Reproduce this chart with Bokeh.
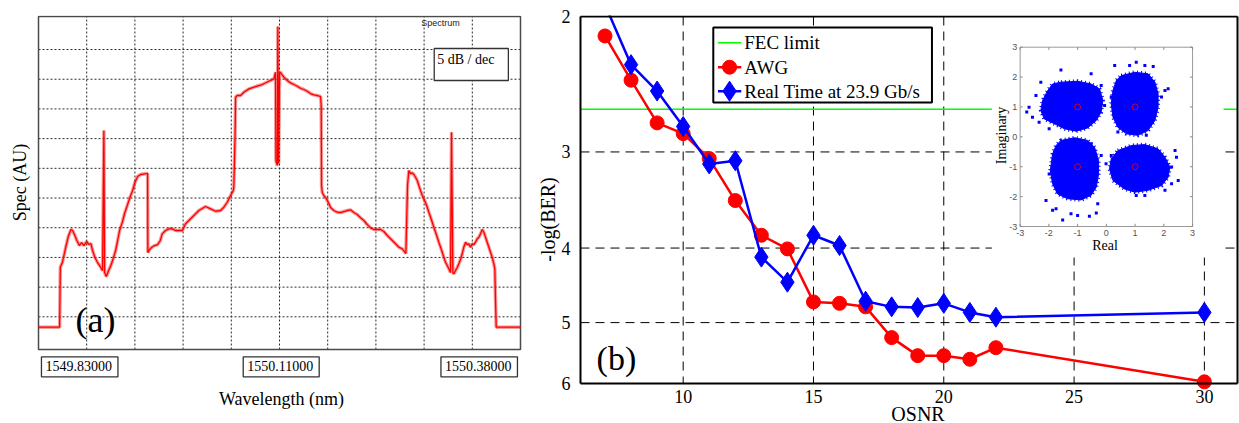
import math
from bokeh.plotting import figure
from bokeh.layouts import row
from bokeh.models import (Range1d, FixedTicker, Label, LinearScale)
from bokeh.embed import file_html
from bokeh.resources import INLINE
from bokeh.core.properties import value

SERIF = "Liberation Serif"
SANS = "Liberation Sans"

# ---------------- panel (a): optical spectrum (5 dB / division) ----------------
WL_START, WL_END = 1549.83, 1550.38
wl_tick_labels = ["1549.83000", "1550.11000", "1550.38000"]
# wavelength offset from 1549.83 nm, in pm
spec_offset_pm = [
    0.0, 24.1, 24.9, 27.2, 29.0, 31.3, 34.0, 37.0, 38.9, 41.5,
    43.8, 46.6, 49.2, 51.8, 54.9, 57.5, 59.8, 61.7, 64.4, 67.4,
    70.5, 73.1, 74.6, 75.4, 77.4, 80.0, 82.6, 85.3, 88.0, 90.3,
    92.5, 95.6, 98.2, 101.3, 104.3, 107.4, 110.0, 113.1, 116.5, 119.9,
    123.3, 124.5, 124.8, 126.8, 129.0, 132.5, 135.9, 139.0, 141.2, 145.0,
    148.8, 152.7, 156.4, 160.2, 164.1, 167.8, 171.6, 177.3, 183.0, 190.6,
    196.4, 202.1, 207.8, 211.5, 215.4, 219.2, 222.3, 222.9, 224.3, 224.9,
    226.8, 230.6, 234.3, 240.1, 247.7, 255.3, 262.9, 268.6, 270.5, 270.9,
    272.5, 273.1, 273.9, 275.1, 276.2, 280.0, 283.9, 287.6, 291.4, 295.3,
    299.0, 302.8, 306.7, 310.4, 314.2, 318.1, 321.9, 322.6, 323.0, 323.8,
    325.6, 327.6, 329.5, 331.3, 333.3, 337.0, 340.9, 344.7, 348.4, 352.3,
    356.1, 359.8, 363.7, 367.5, 371.3, 375.1, 378.9, 382.7, 386.5, 390.3,
    394.1, 398.0, 403.7, 407.4, 411.2, 415.1, 418.0, 419.2, 421.1, 422.6,
    424.5, 426.5, 428.3, 430.2, 432.2, 434.0, 435.9, 437.9, 439.7, 441.6,
    443.6, 445.4, 447.4, 449.3, 451.1, 453.1, 455.0, 456.8, 458.8, 460.7,
    462.5, 464.5, 466.4, 468.2, 470.2, 471.3, 472.8, 473.9, 475.9, 477.8,
    479.6, 481.6, 483.5, 485.3, 487.3, 489.2, 491.0, 493.0, 494.9, 496.8,
    498.7, 500.6, 502.5, 504.4, 506.3, 508.2, 510.1, 512.0, 513.9, 515.8,
    517.7, 519.6, 520.7, 521.5, 522.3, 550.0,
]
spec_db = [
    -46.75, -46.75, -36.65, -35.86, -34.68, -33.16, -31.48, -30.30, -30.47, -31.31,
    -32.15, -33.00, -32.49, -33.00, -32.32, -32.83, -32.66, -33.84, -35.02, -35.86,
    -36.53, -37.21, -13.64, -37.54, -38.22, -37.21, -36.36, -35.19, -33.84, -32.15,
    -30.47, -29.12, -27.61, -26.26, -24.92, -23.74, -22.39, -21.38, -21.04, -20.96,
    -20.88, -20.88, -34.18, -33.67, -33.33, -33.00, -32.83, -32.15, -31.03, -30.47,
    -30.19, -30.19, -30.47, -30.47, -30.47, -29.34, -28.79, -27.95, -27.10, -26.43,
    -26.82, -27.22, -27.10, -26.55, -25.71, -24.58, -23.74, -23.18, -14.48, -8.03,
    -7.74, -7.74, -7.19, -6.62, -6.23, -5.89, -5.34, -4.93, -3.82, -18.69,
    -19.53, 3.87, -19.19, -3.87, -3.87, -4.66, -5.22, -5.61, -5.89, -6.18,
    -6.52, -6.73, -7.02, -7.41, -7.63, -7.74, -7.91, -9.60, -22.90, -24.07,
    -24.58, -24.92, -25.42, -25.93, -26.60, -27.10, -27.39, -27.44, -27.27, -27.10,
    -26.99, -27.44, -27.78, -28.33, -28.79, -29.46, -30.02, -30.30, -30.30, -30.30,
    -30.64, -31.31, -32.15, -32.71, -33.28, -33.55, -34.12, -34.34, -22.90, -20.37,
    -20.88, -20.76, -21.04, -21.50, -22.05, -22.90, -23.74, -24.58, -25.13, -25.76,
    -26.55, -27.39, -28.23, -29.07, -29.92, -30.76, -31.60, -32.44, -33.28, -34.12,
    -34.97, -35.81, -36.36, -36.92, -37.54, -13.92, -37.54, -37.76, -37.21, -36.70,
    -36.08, -35.35, -34.39, -33.28, -32.44, -32.83, -32.71, -33.28, -32.71, -32.83,
    -32.44, -31.87, -31.60, -31.03, -30.30, -30.76, -31.60, -32.44, -33.28, -34.12,
    -34.97, -36.08, -36.92, -42.26, -46.75, -46.75,
]
db_grid = [-45, -40, -35, -30, -25, -20, -15, -10, -5, 0]
DB_BOTTOM, DB_TOP = -50.5, 5.56

# ---------------- panel (b): BER vs OSNR ----------------
osnr = [7, 8, 9, 10, 11, 12, 13, 14, 15, 16, 17, 18, 19, 20, 21, 22, 30]
ber_awg = [2.12, 2.42, 2.75, 2.84, 3.06, 3.47, 3.85, 4.01, 4.70, 4.72, 4.77, 5.23, 5.52, 5.52, 5.58, 5.39, 5.97]
ber_rt = [1.93, 2.31, 2.50, 2.78, 3.11, 3.08, 4.11, 4.43, 3.85, 3.97, 4.69, 4.77, 4.78, 4.72, 4.85, 4.92, 4.85]
fec_limit = 2.64
osnr_ticks = [10, 15, 20, 25, 30]
ber_ticks = [2, 3, 4, 5, 6]
ber_grid = [3, 4, 5]
legend_labels = ["FEC limit", "AWG", "Real Time at 23.9 Gb/s"]

# ---------------- inset: QPSK constellation ----------------
inset_ticks = [-3, -2, -1, 0, 1, 2, 3]
const_re = [-1, 1, -1, 1]
const_im = [1, 1, -1, -1]
cluster_re = [
    [-1.58, -1.00, -0.53, -0.24, -0.12, -0.18, -0.35, -0.65, -1.05, -1.46, -1.81, -2.16, -2.28, -2.22, -2.04, -1.87],
    [0.52, 0.99, 1.45, 1.69, 1.80, 1.80, 1.69, 1.45, 1.10, 0.70, 0.40, 0.23, 0.17, 0.23, 0.35],
    [-1.58, -1.11, -0.65, -0.41, -0.27, -0.27, -0.35, -0.53, -0.88, -1.35, -1.70, -1.87, -1.95, -1.87, -1.75],
    [0.40, 0.87, 1.34, 1.80, 2.04, 2.21, 2.15, 1.92, 1.45, 0.99, 0.62, 0.23, 0.11, 0.17],
]
cluster_im = [
    [1.83, 1.86, 1.77, 1.61, 1.22, 0.83, 0.55, 0.30, 0.19, 0.27, 0.44, 0.60, 0.88, 1.22, 1.55, 1.77],
    [2.05, 2.16, 2.11, 1.83, 1.44, 0.99, 0.55, 0.21, 0.05, 0.10, 0.32, 0.66, 1.11, 1.55, 1.89],
    [-0.12, -0.03, -0.12, -0.35, -0.79, -1.24, -1.68, -1.96, -2.11, -2.07, -1.91, -1.57, -1.13, -0.57, -0.29],
    [-0.46, -0.29, -0.26, -0.40, -0.68, -1.01, -1.35, -1.63, -1.79, -1.85, -1.74, -1.46, -1.07, -0.74],
]
outlier_re = [-2.77, -2.69, -2.57, -2.45, -2.28, -1.58, -0.53, -0.18, -0.06, -2.34, -1.99,
              0.29, 0.81, 1.04, 1.34, 1.63, 2.04, 2.15, 1.92, 0.17, 0.40, 1.39,
              -2.10, -1.87, -1.52, -1.23, -1.00, -0.59, -0.35, -0.30, -1.99, -0.53, -0.18, -1.75,
              2.39, 2.44, 2.50, 2.27, 2.04, 1.04, 1.34, -0.01, 0.17, 2.27]
outlier_im = [0.83, 0.99, 0.66, 1.38, 1.83, 2.24, 2.11, 1.72, 1.05, 0.49, 0.27,
              2.39, 2.39, 2.50, 2.39, 2.35, 1.55, 1.61, 1.33, 1.33, 0.16, 0.05,
              -2.13, -2.46, -2.78, -2.57, -2.63, -2.66, -2.55, -2.24, -1.24, -0.23, -0.62, -2.41,
              -0.46, -0.68, -1.46, -1.57, -1.79, -1.96, -1.96, -0.90, -0.62, -1.01]

# ---------------- layout (page pixels) ----------------
W1, W2, H = 533, 706, 423
TOP = 15

# ======================= panel (a) =======================
A_L, A_R, A_T, A_B = 38, 520, 16, 349  # visible box


def ax(px):
    return WL_START + (px - A_L) / (A_R - A_L) * (WL_END - WL_START)


def ay(py):
    return DB_TOP - (py - A_T) / (A_B - A_T) * (DB_TOP - DB_BOTTOM)


p1 = figure(width=W1, height=H, x_range=Range1d(ax(0), ax(W1)), y_range=Range1d(ay(H), ay(TOP)),
            x_axis_location=None, y_axis_location=None, toolbar_location=None, output_backend="svg",
            min_border_left=0, min_border_right=0, min_border_top=TOP, min_border_bottom=0)
p1.center = []
p1.outline_line_color = None

wl_grid = [WL_START + k * (WL_END - WL_START) / 10 for k in range(1, 10)]
gkw = dict(line_color="#2a2a2a", line_dash="2 2", line_width=1)
p1.segment(x0=wl_grid, y0=[DB_BOTTOM] * len(wl_grid), x1=wl_grid, y1=[DB_TOP] * len(wl_grid), **gkw)
p1.segment(x0=[WL_START] * len(db_grid), y0=db_grid, x1=[WL_END] * len(db_grid), y1=db_grid, **gkw)
p1.quad(left=[WL_START], right=[WL_END], bottom=[DB_BOTTOM], top=[DB_TOP],
        fill_color=None, line_color="#4a4a4a", line_width=1.5)

wl = [WL_START + o / 1000.0 for o in spec_offset_pm]
p1.line(wl, spec_db, line_color="#e80000", line_width=3.5, line_alpha=0.4)
p1.line(wl, spec_db, line_color="#ff0000", line_width=1.3)

box_centers = [79.2, 280.7, 478.7]
for txt, cx in zip(wl_tick_labels, box_centers):
    p1.add_layout(Label(x=ax(cx), y=ay(366.3), text=txt, text_align="center", text_baseline="middle",
                        text_font=SERIF, text_font_size="14px", text_color="black",
                        border_line_color="#333333", border_line_width=1.3,
                        background_fill_color="white", padding=(4, 6, 4, 6)))
p1.add_layout(Label(x=ax(470.8), y=ay(64), text="5 dB / dec", text_align="center", text_baseline="middle",
                    text_font=SERIF, text_font_size="14px", text_color="black",
                    border_line_color="#333333", border_line_width=1.3,
                    background_fill_color="white", padding=(3, 14, 3, 14)))
p1.add_layout(Label(x=ax(440), y=ay(22.5), text="Spectrum", text_align="center", text_baseline="middle",
                    text_font=SANS, text_font_size="9px", text_color="#222222"))
p1.add_layout(Label(x=ax(95), y=ay(319), text="(a)", text_align="center", text_baseline="middle",
                    text_font=SERIF, text_font_size="36px", text_color="black"))
p1.add_layout(Label(x=ax(19), y=ay(182), text="Spec (AU)", text_align="center", text_baseline="middle",
                    angle=math.pi / 2, text_font=SERIF, text_font_size="18px", text_color="black"))
p1.add_layout(Label(x=ax(281), y=ay(398), text="Wavelength (nm)", text_align="center", text_baseline="middle",
                    text_font=SERIF, text_font_size="18px", text_color="black"))

# ======================= panel (b) =======================
B_L, B_R, B_T, B_B = 579, 1237, 16, 383  # visible axes box
F_L = 575                                 # frame left edge
PPX = 26.1                                # pixels per OSNR unit
X_LEFT = 6.06
LY0, LY1 = math.log10(2), math.log10(6)


def bx(px):
    return X_LEFT + (px - B_L) / PPX


def by(py):
    return 10 ** (LY0 + (py - B_T) / (B_B - B_T) * (LY1 - LY0))


X_RIGHT = bx(B_R)

p2 = figure(width=W2, height=H, x_range=Range1d(bx(F_L), bx(W1 + W2)), y_range=Range1d(by(H), by(TOP)),
            y_axis_type="log", x_axis_location=None, toolbar_location=None, output_backend="svg",
            min_border_left=F_L - W1, min_border_right=0, min_border_top=TOP, min_border_bottom=0)
p2.center = []
p2.outline_line_color = None
yax = p2.yaxis[0]
yax.ticker = FixedTicker(ticks=ber_ticks)
yax.major_label_overrides = {t: str(t) for t in ber_ticks}
yax.major_tick_out = 0
yax.major_tick_in = 0
yax.minor_tick_out = 0
yax.minor_tick_in = 0
yax.major_tick_line_color = None
yax.minor_tick_line_color = None
yax.axis_line_color = None
yax.major_label_text_font = SERIF
yax.major_label_text_font_size = "18px"
yax.major_label_text_color = "black"
yax.major_label_standoff = 6
yax.axis_label = "-log(BER)"
yax.axis_label_text_font = SERIF
yax.axis_label_text_font_size = "20px"
yax.axis_label_text_font_style = "normal"
yax.axis_label_text_color = "black"
yax.axis_label_standoff = 0

# dashed grid
bgk = dict(line_color="black", line_dash="9 6", line_width=1)
p2.segment(x0=osnr_ticks, y0=[2] * 5, x1=osnr_ticks, y1=[6] * 5, **bgk)
p2.segment(x0=[X_LEFT] * 3, y0=ber_grid, x1=[X_RIGHT] * 3, y1=ber_grid, **bgk)

p2.line([X_LEFT, X_RIGHT], [fec_limit, fec_limit], line_color="#00ff00", line_width=1.5)

# inset placement
IN_L, IN_R, IN_T, IN_B = 1019.3, 1192.0, 46.7, 226.0
ipx = (IN_R - IN_L) / 6.0
ipy = (IN_B - IN_T) / 6.0


def ix(px):
    return -3 + (px - IN_L) / ipx


def iy(py):
    return 3 - (py - IN_T) / ipy


p2.extra_x_ranges = {"ix": Range1d(ix(F_L), ix(W1 + W2))}
p2.extra_y_ranges = {"iy": Range1d(iy(H), iy(TOP))}
p2.extra_x_scales = {"ix": LinearScale()}
p2.extra_y_scales = {"iy": LinearScale()}
ik = dict(x_range_name="ix", y_range_name="iy")

p2.quad(left=[ix(991)], right=[ix(1223)], bottom=[iy(257)], top=[iy(TOP)],
        fill_color="white", line_color=None, **ik)
p2.quad(left=[-3], right=[3], bottom=[-3], top=[3], fill_color=None, line_color="#9a9a9a", line_width=1, **ik)
tl = 0.09
n = len(inset_ticks)
p2.segment(x0=inset_ticks, y0=[-3] * n, x1=inset_ticks, y1=[-3 + tl] * n, line_color="#8a8a8a", **ik)
p2.segment(x0=inset_ticks, y0=[3] * n, x1=inset_ticks, y1=[3 - tl] * n, line_color="#8a8a8a", **ik)
p2.segment(x0=[-3] * n, y0=inset_ticks, x1=[-3 + tl] * n, y1=inset_ticks, line_color="#8a8a8a", **ik)
p2.segment(x0=[3] * n, y0=inset_ticks, x1=[3 - tl] * n, y1=inset_ticks, line_color="#8a8a8a", **ik)
p2.text(x=inset_ticks, y=[iy(232.7)] * n, text=[str(t) for t in inset_ticks], text_align="center",
        text_baseline="middle", text_font=value(SANS), text_font_size="9px", text_color="#555555", **ik)
p2.text(x=[ix(1016.5)] * n, y=inset_ticks, text=[str(t) for t in inset_ticks], text_align="right",
        text_baseline="middle", text_font=value(SANS), text_font_size="9px", text_color="#555555", **ik)
p2.text(x=[ix(1104.4)], y=[iy(245)], text=["Real"], text_align="center", text_baseline="middle",
        text_font=value(SERIF), text_font_size="14px", text_color="black", **ik)
p2.text(x=[ix(1000.6)], y=[iy(135)], text=["Imaginary"], text_align="center", text_baseline="middle",
        angle=math.pi / 2, text_font=value(SERIF), text_font_size="14px", text_color="black", **ik)
p2.patches(xs=cluster_re, ys=cluster_im, fill_color="#0000ff", line_color="#0000ff", line_width=1, **ik)
p2.patches(xs=cluster_re, ys=cluster_im, fill_color=None, line_color="#0000ff", line_width=4,
           line_dash="1 3", **ik)
p2.scatter(outlier_re, outlier_im, marker="square", size=3, fill_color="#0000ff", line_color=None, **ik)
p2.scatter(const_re, const_im, marker="circle", size=6, fill_color=None, line_color="#ff0000",
           line_width=0.8, **ik)

p2.line(osnr, ber_awg, line_color="#ff0000", line_width=2.5)
p2.scatter(osnr, ber_awg, marker="circle", size=14, fill_color="#ff0000", line_color="#ff0000")
p2.line(osnr, ber_rt, line_color="#0000ff", line_width=2.5)
p2.scatter(osnr, ber_rt, marker="diamond", size=20, fill_color="#0000ff", line_color="#0000ff")

# axes box (drawn on top of the data, as in the original)
p2.segment(x0=[X_LEFT, X_LEFT, X_LEFT, X_RIGHT], y0=[2, 6, 2, 2],
           x1=[X_RIGHT, X_RIGHT, X_LEFT, X_RIGHT], y1=[2, 6, 6, 6], line_color="black", line_width=2)

# x tick labels and x label
p2.text(x=osnr_ticks, y=[by(396)] * len(osnr_ticks), text=[str(t) for t in osnr_ticks],
        text_align="center", text_baseline="middle", text_font=value(SERIF), text_font_size="18px",
        text_color="black")
p2.text(x=[bx(917)], y=[by(413)], text=["OSNR"], text_align="center", text_baseline="middle",
        text_font=value(SERIF), text_font_size="20px", text_color="black")

# legend box (drawn as in the original figure)
LG_L, LG_R, LG_T, LG_B = 712, 931, 27, 102
rows_py = [42.3, 66.7, 90.7]
p2.quad(left=[bx(LG_L)], right=[bx(LG_R)], top=[by(LG_T)], bottom=[by(LG_B)],
        fill_color="white", line_color="black", line_width=2)
p2.segment(x0=[bx(716.7)] * 3, x1=[bx(740)] * 3, y0=[by(r) for r in rows_py], y1=[by(r) for r in rows_py],
           line_color=["#00ff00", "#ff0000", "#0000ff"], line_width=[1.5, 2.5, 2.5])
p2.scatter([bx(728.3)], [by(rows_py[1])], marker="circle", size=14, fill_color="#ff0000", line_color="#ff0000")
p2.scatter([bx(728.3)], [by(rows_py[2])], marker="diamond", size=20, fill_color="#0000ff", line_color="#0000ff")
p2.text(x=[bx(743)] * 3, y=[by(r) for r in rows_py], text=legend_labels, text_align="left",
        text_baseline="middle", text_font=value(SERIF), text_font_size="19px", text_color="black")

p2.add_layout(Label(x=bx(615), y=by(358), text="(b)", text_align="center", text_baseline="middle",
                    text_font=SERIF, text_font_size="34px", text_color="black"))

layout = row(p1, p2)
open("out.html", "w").write(file_html(layout, INLINE))
